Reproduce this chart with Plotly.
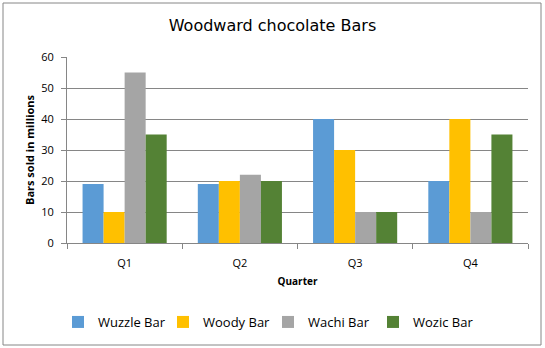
import plotly.graph_objects as go

quarters = ["Q1", "Q2", "Q3", "Q4"]
wuzzle = [19, 19, 40, 20]
woody = [10, 20, 30, 40]
wachi = [55, 22, 10, 10]
wozic = [35, 20, 10, 35]

series = [
    ("Wuzzle Bar", wuzzle, "#5B9BD5"),
    ("Woody Bar", woody, "#FFC000"),
    ("Wachi Bar", wachi, "#A5A5A5"),
    ("Wozic Bar", wozic, "#548235"),
]

fig = go.Figure()
for name, vals, col in series:
    fig.add_trace(go.Bar(x=quarters, y=vals, name=name, marker=dict(color=col, line=dict(width=0))))

W, H = 545, 348
L, R, T, B = 67, 17, 57, 105
pw, ph = W - L - R, H - T - B

fig.update_layout(
    width=W, height=H,
    margin=dict(l=L, r=R, t=T, b=B, autoexpand=False),
    paper_bgcolor="white", plot_bgcolor="white",
    barmode="group", bargap=0.27, bargroupgap=0,
    font=dict(family="Open Sans, Liberation Sans, sans-serif", size=11, color="#404040"),
    title=dict(text="Woodward chocolate Bars", x=0.5, xanchor="center", y=1 - 25 / H, yanchor="middle",
               font=dict(family="DejaVu Sans", size=16, color="#000000")),
    xaxis=dict(
        showgrid=False, showline=True, linecolor="#868686", linewidth=1,
        ticks="outside", tickson="boundaries", ticklen=5, tickcolor="#868686",
        tickfont=dict(size=11, color="#000000"), ticklabelstandoff=10,
        title=dict(text="<b>Quarter</b>", font=dict(size=10, color="#000000"), standoff=8),
    ),
    yaxis=dict(
        range=[0, 60], dtick=10, showgrid=True, gridcolor="#868686", gridwidth=1,
        showline=True, linecolor="#868686", linewidth=1,
        ticks="outside", ticklen=5, tickcolor="#868686",
        tickfont=dict(size=11, color="#000000"), ticklabelstandoff=5,
        zeroline=False,
        title=dict(text="<b>Bars sold in millions</b>", font=dict(size=11, color="#000000"), standoff=4),
    ),
    legend=dict(orientation="h", x=(268 - L) / pw, xanchor="center", y=-(322 - 243) / ph, yanchor="middle",
                font=dict(size=13, color="#000000"), itemwidth=30, tracegroupgap=0,
                entrywidth=60, entrywidthmode="pixels"),
    shapes=[dict(type="rect", xref="paper", yref="paper",
                 x0=(3 - L) / pw, x1=(541 - L) / pw,
                 y0=-(345 - T - ph) / ph, y1=1 + (T - 3) / ph,
                 line=dict(color="#868686", width=1), fillcolor="rgba(0,0,0,0)", layer="below")],
)

fig.write_html("out.html")
